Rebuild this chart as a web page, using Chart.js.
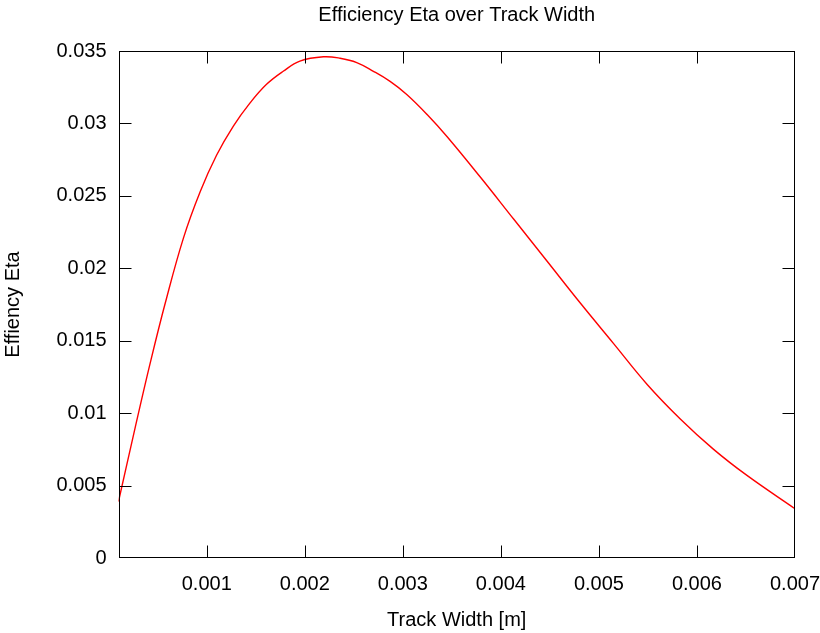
<!DOCTYPE html>
<html>
<head>
<meta charset="utf-8">
<title>Efficiency Eta over Track Width</title>
<script src="https://cdn.jsdelivr.net/npm/chart.js@4/dist/chart.umd.min.js"></script>
<style>
    html, body { margin: 0; padding: 0; background: #fff; }
    #wrap { width: 820px; height: 633px; }
</style>
</head>
<body>
<div id="wrap"><canvas id="eta-chart"></canvas></div>
<script>
/* ===== EFFICIENCY ETA OVER TRACK WIDTH ===== */

// Track width [m]
const trackWidth = [0.0001, 0.00027, 0.000425, 0.000577, 0.000763, 0.000934, 0.0011, 0.00127, 0.00144, 0.00161,
    0.00178, 0.00195, 0.00219, 0.00236, 0.00253, 0.0027, 0.00287, 0.00304, 0.00325, 0.00345,
    0.00379, 0.00413, 0.00447, 0.00481, 0.00515, 0.00549, 0.00583, 0.00617, 0.00651, 0.007];

// Efficiency eta at each width
const etaValues = [0.0039, 0.0090, 0.0135, 0.0176, 0.0221, 0.0253, 0.0278, 0.0298, 0.0314, 0.0327,
    0.0336, 0.0343, 0.0346, 0.0345, 0.0342, 0.0336, 0.0329, 0.0320, 0.0306, 0.0291,
    0.0263, 0.0234, 0.0205, 0.0176, 0.0148, 0.0120, 0.0096, 0.0075, 0.0057, 0.0034];

const xTicks = [0.001, 0.002, 0.003, 0.004, 0.005, 0.006, 0.007];
const xTickLabels = ['0.001', '0.002', '0.003', '0.004', '0.005', '0.006', '0.007'];
const yTicks = [0, 0.005, 0.01, 0.015, 0.02, 0.025, 0.03, 0.035];
const yTickLabels = ['0', '0.005', '0.01', '0.015', '0.02', '0.025', '0.03', '0.035'];

const FONT = { family: '"Liberation Sans", Arial, sans-serif', size: 20 };

// gnuplot style: closed frame, inward ticks mirrored on all sides, title over plot area
const frameAndTitle = {
    id: 'frameAndTitle',
    afterDatasetsDraw(chart) {
        const { ctx, chartArea: a, scales } = chart;
        const L = Math.round(a.left) + 0.5, R = Math.round(a.right) - 0.5;
        const T = Math.round(a.top) + 0.5, B = Math.round(a.bottom) - 0.5;
        const len = 12;
        const clampX = px => Math.min(R, Math.max(L, px));
        const clampY = py => Math.min(B, Math.max(T, py));
        ctx.save();
        ctx.strokeStyle = '#000';
        ctx.lineWidth = 1;
        ctx.beginPath();
        scales.x.ticks.forEach(t => {
            const px = clampX(Math.round(scales.x.getPixelForValue(t.value)) + 0.5);
            ctx.moveTo(px, B); ctx.lineTo(px, B - len);
            ctx.moveTo(px, T); ctx.lineTo(px, T + len);
        });
        scales.y.ticks.forEach(t => {
            const py = clampY(Math.round(scales.y.getPixelForValue(t.value)) + 0.5);
            ctx.moveTo(L, py); ctx.lineTo(L + len, py);
            ctx.moveTo(R, py); ctx.lineTo(R - len, py);
        });
        ctx.stroke();
        ctx.strokeRect(L, T, R - L, B - T);

        ctx.fillStyle = '#000';
        ctx.font = `${FONT.size}px ${FONT.family}`;
        ctx.textAlign = 'center';
        ctx.textBaseline = 'middle';
        ctx.fillText('Efficiency Eta over Track Width', (a.left + a.right) / 2, 15);
        ctx.restore();
    }
};

new Chart(document.getElementById('eta-chart'), {
    type: 'line',
    data: {
        datasets: [{
            label: 'Eta',
            data: trackWidth.map((w, i) => ({ x: w, y: etaValues[i] })),
            borderColor: '#ff0000',
            borderWidth: 1.4,
            pointRadius: 0,
            fill: false,
            tension: 0.4
        }]
    },
    options: {
        responsive: true,
        maintainAspectRatio: false,
        animation: false,
        layout: { padding: { top: 51, right: 25, bottom: 0, left: 0 } },
        plugins: {
            legend: { display: false },
            title: { display: false },
            tooltip: { enabled: false }
        },
        scales: {
            x: {
                type: 'linear',
                min: 0.0001,
                max: 0.007,
                afterBuildTicks: s => { s.ticks = xTicks.map(v => ({ value: v })); },
                afterFit: s => { s.height = 75; s.paddingLeft = 0; s.paddingRight = 0; },
                grid: { display: false, drawTicks: false },
                border: { display: false },
                ticks: {
                    color: '#000',
                    font: FONT,
                    padding: 14,
                    maxRotation: 0,
                    autoSkip: false,
                    callback: (v, i) => xTickLabels[i]
                },
                title: {
                    display: true,
                    text: 'Track Width [m]',
                    color: '#000',
                    font: FONT,
                    padding: { top: 0, bottom: 1 }
                }
            },
            y: {
                min: 0,
                max: 0.035,
                afterBuildTicks: s => { s.ticks = yTicks.map(v => ({ value: v })); },
                afterFit: s => { s.width = 118.5; s.paddingTop = 0; s.paddingBottom = 0; },
                grid: { display: false, drawTicks: false },
                border: { display: false },
                ticks: {
                    color: '#000',
                    font: FONT,
                    padding: 12,
                    autoSkip: false,
                    callback: (v, i) => yTickLabels[i]
                },
                title: {
                    display: true,
                    text: 'Effiency Eta',
                    color: '#000',
                    font: FONT,
                    padding: { top: 1, bottom: 0 }
                }
            }
        }
    },
    plugins: [frameAndTitle]
});
</script>
</body>
</html>
